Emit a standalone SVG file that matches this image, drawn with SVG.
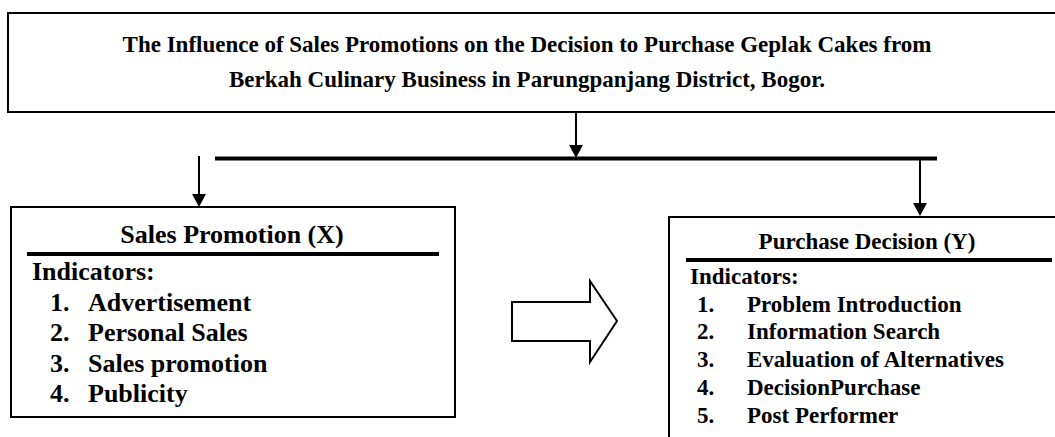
<svg xmlns="http://www.w3.org/2000/svg" width="1055" height="437" viewBox="0 0 1055 437">
<style>
text{font-family:"Liberation Serif","Times New Roman",serif;font-weight:bold;fill:#000}
.box{fill:#fff;stroke:#000;stroke-width:2}
.ln{stroke:#000;stroke-width:2;fill:none}
.head{fill:#000}
.rule{stroke:#000;stroke-width:4}
.t{font-size:23px}
.l{font-size:26px}
.r{font-size:23px}
</style>
<rect width="1055" height="437" fill="#fff"/>
<g id="title">
<rect class="box" x="8" y="13" width="1060" height="99"/>
<text class="t" x="527" y="52" text-anchor="middle">The Influence of Sales Promotions on the Decision to Purchase Geplak Cakes from</text>
<text class="t" x="527" y="87" text-anchor="middle">Berkah Culinary Business in Parungpanjang District, Bogor.</text>
</g>
<g id="connectors">
<line class="ln" x1="576" y1="112" x2="576" y2="146"/>
<path class="head" d="M569,145 L583,145 L576,158 Z"/>
<line x1="215" y1="158.5" x2="937" y2="158.5" stroke="#000" stroke-width="4"/>
<line class="ln" x1="199" y1="156" x2="199" y2="195"/>
<path class="head" d="M192,194 L206,194 L199,207 Z"/>
<line class="ln" x1="920" y1="159" x2="920" y2="204"/>
<path class="head" d="M913,203 L927,203 L920,216 Z"/>
<path class="ln" d="M512,302 L590,302 L590,281 L617,321 L590,362 L590,341 L512,341 Z" fill="#fff"/>
</g>
<g id="sales-promotion">
<rect class="box" x="11" y="207" width="444" height="210"/>
<text class="l" x="232" y="243" text-anchor="middle">Sales Promotion (X)</text>
<line class="rule" x1="27" y1="254" x2="439" y2="254"/>
<text class="l" x="32" y="280">Indicators:</text>
<text class="l" x="50" y="311">1.</text><text class="l" x="88" y="311">Advertisement</text>
<text class="l" x="50" y="341">2.</text><text class="l" x="88" y="341">Personal Sales</text>
<text class="l" x="50" y="372">3.</text><text class="l" x="88" y="372">Sales promotion</text>
<text class="l" x="50" y="402">4.</text><text class="l" x="88" y="402">Publicity</text>
</g>
<g id="purchase-decision">
<rect class="box" x="669" y="217" width="400" height="240"/>
<text class="r" x="867" y="249" text-anchor="middle">Purchase Decision (Y)</text>
<line class="rule" x1="686" y1="260" x2="1052" y2="260"/>
<text class="r" x="690" y="284">Indicators:</text>
<text class="r" x="697" y="312">1.</text><text class="r" x="747" y="312">Problem Introduction</text>
<text class="r" x="697" y="339">2.</text><text class="r" x="747" y="339">Information Search</text>
<text class="r" x="697" y="367">3.</text><text class="r" x="747" y="367">Evaluation of Alternatives</text>
<text class="r" x="697" y="395">4.</text><text class="r" x="747" y="395">DecisionPurchase</text>
<text class="r" x="697" y="423">5.</text><text class="r" x="747" y="423">Post Performer</text>
</g>
</svg>
